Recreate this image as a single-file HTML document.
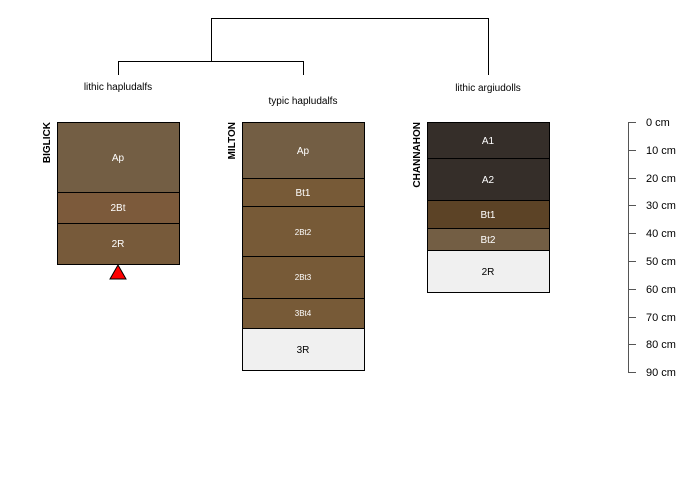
<!DOCTYPE html>
<html><head><style>body{margin:0;background:#fff}svg{display:block}</style></head><body>
<svg width="700" height="500" xmlns="http://www.w3.org/2000/svg" font-family="Liberation Sans, sans-serif">
<rect width="700" height="500" fill="#fff"/>
<g stroke="#000" stroke-width="1" fill="none">
<path d="M211.5 47V18.5H488.5V75"/>
<path d="M118.5 75V61.5H303.5V75"/>
<path d="M211.5 47V61.5"/>
</g>
<g font-size="10" fill="#000" text-anchor="middle">
<text x="118" y="90">lithic hapludalfs</text>
<text x="303" y="104">typic hapludalfs</text>
<text x="488" y="91">lithic argiudolls</text>
</g>
<g stroke="#000" stroke-width="1">
<rect x="57.5" y="122.5" width="122" height="70" fill="#735e44"/>
<rect x="57.5" y="192.5" width="122" height="31" fill="#7c5a3b"/>
<rect x="57.5" y="223.5" width="122" height="41" fill="#775a3a"/>
<rect x="242.5" y="122.5" width="122" height="56" fill="#735e44"/>
<rect x="242.5" y="178.5" width="122" height="28" fill="#775a37"/>
<rect x="242.5" y="206.5" width="122" height="50" fill="#775a37"/>
<rect x="242.5" y="256.5" width="122" height="42" fill="#775a37"/>
<rect x="242.5" y="298.5" width="122" height="30" fill="#775a37"/>
<rect x="242.5" y="328.5" width="122" height="42" fill="#f0f0f0"/>
<rect x="427.5" y="122.5" width="122" height="36" fill="#352e29"/>
<rect x="427.5" y="158.5" width="122" height="42" fill="#352e29"/>
<rect x="427.5" y="200.5" width="122" height="28" fill="#5c4326"/>
<rect x="427.5" y="228.5" width="122" height="22" fill="#735e44"/>
<rect x="427.5" y="250.5" width="122" height="42" fill="#f0f0f0"/>
</g>
<polygon points="118,265 110,279 126,279" fill="#f00" stroke="#000" stroke-width="1"/>
<g font-size="10" fill="#fff" text-anchor="middle">
<text x="118" y="161">Ap</text><text x="118" y="211">2Bt</text><text x="118" y="247">2R</text>
<text x="303" y="154">Ap</text><text x="303" y="196">Bt1</text>
<text x="303" y="235" font-size="8">2Bt2</text><text x="303" y="280" font-size="8">2Bt3</text><text x="303" y="316" font-size="8">3Bt4</text>
<text x="303" y="353" fill="#000">3R</text>
<text x="488" y="144">A1</text><text x="488" y="183">A2</text><text x="488" y="218">Bt1</text><text x="488" y="243">Bt2</text>
<text x="488" y="275" fill="#000">2R</text>
</g>
<g font-size="10" font-weight="bold" fill="#000">
<text transform="translate(50,122) rotate(-90)" text-anchor="end">BIGLICK</text>
<text transform="translate(235,122) rotate(-90)" text-anchor="end">MILTON</text>
<text transform="translate(420,122) rotate(-90)" text-anchor="end">CHANNAHON</text>
</g>
<g stroke="#555" stroke-width="1">
<path d="M628.5 122V372.5"/>
<path d="M628 122.5h8M628 150.5h8M628 178.5h8M628 205.5h8M628 233.5h8M628 261.5h8M628 289.5h8M628 317.5h8M628 344.5h8M628 372.5h8"/>
</g>
<g font-size="11" fill="#000">
<text x="646" y="126">0 cm</text><text x="646" y="154">10 cm</text><text x="646" y="182">20 cm</text><text x="646" y="209">30 cm</text><text x="646" y="237">40 cm</text><text x="646" y="265">50 cm</text><text x="646" y="293">60 cm</text><text x="646" y="321">70 cm</text><text x="646" y="348">80 cm</text><text x="646" y="376">90 cm</text>
</g>
</svg>
</body></html>
